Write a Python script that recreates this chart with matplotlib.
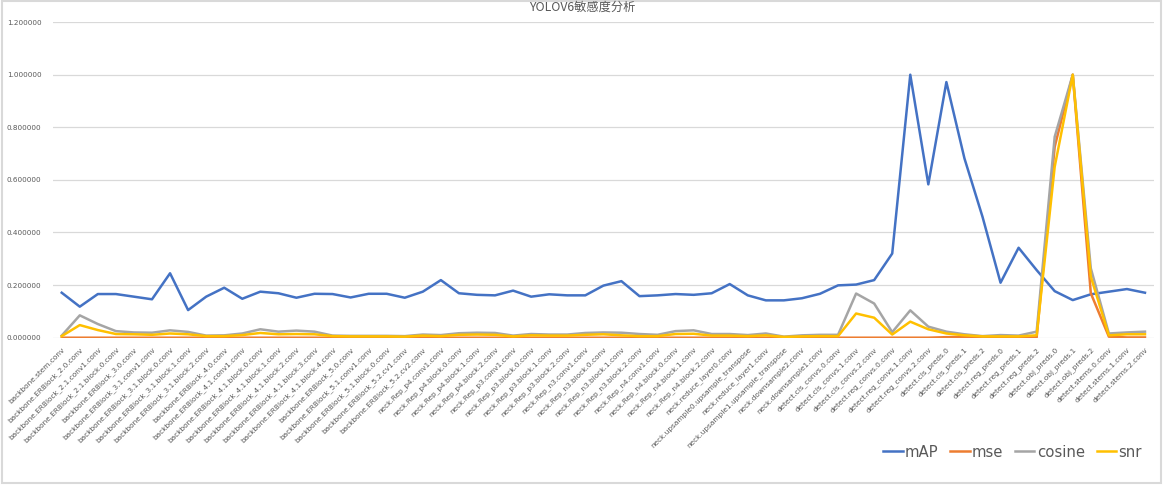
import matplotlib
matplotlib.use('Agg')
import matplotlib.pyplot as plt
from matplotlib.patches import Rectangle
from matplotlib.ticker import FormatStrFormatter

layers = [
    'backbone.stem.conv', 'backbone.ERBlock_2.0.conv', 'backbone.ERBlock_2.1.conv1.conv',
    'backbone.ERBlock_2.1.block.0.conv', 'backbone.ERBlock_3.0.conv', 'backbone.ERBlock_3.1.conv1.conv',
    'backbone.ERBlock_3.1.block.0.conv', 'backbone.ERBlock_3.1.block.1.conv', 'backbone.ERBlock_3.1.block.2.conv',
    'backbone.ERBlock_4.0.conv', 'backbone.ERBlock_4.1.conv1.conv', 'backbone.ERBlock_4.1.block.0.conv',
    'backbone.ERBlock_4.1.block.1.conv', 'backbone.ERBlock_4.1.block.2.conv', 'backbone.ERBlock_4.1.block.3.conv',
    'backbone.ERBlock_4.1.block.4.conv', 'backbone.ERBlock_5.0.conv', 'backbone.ERBlock_5.1.conv1.conv',
    'backbone.ERBlock_5.1.block.0.conv', 'backbone.ERBlock_5.2.cv1.conv', 'backbone.ERBlock_5.2.cv2.conv',
    'neck.Rep_p4.conv1.conv', 'neck.Rep_p4.block.0.conv', 'neck.Rep_p4.block.1.conv', 'neck.Rep_p4.block.2.conv',
    'neck.Rep_p3.conv1.conv', 'neck.Rep_p3.block.0.conv', 'neck.Rep_p3.block.1.conv', 'neck.Rep_p3.block.2.conv',
    'neck.Rep_n3.conv1.conv', 'neck.Rep_n3.block.0.conv', 'neck.Rep_n3.block.1.conv', 'neck.Rep_n3.block.2.conv',
    'neck.Rep_n4.conv1.conv', 'neck.Rep_n4.block.0.conv', 'neck.Rep_n4.block.1.conv', 'neck.Rep_n4.block.2.conv',
    'neck.reduce_layer0.conv', 'neck.upsample0.upsample_transpose', 'neck.reduce_layer1.conv',
    'neck.upsample1.upsample_transpose', 'neck.downsample2.conv', 'neck.downsample1.conv',
    'detect.cls_convs.0.conv', 'detect.cls_convs.1.conv', 'detect.cls_convs.2.conv',
    'detect.reg_convs.0.conv', 'detect.reg_convs.1.conv', 'detect.reg_convs.2.conv',
    'detect.cls_preds.0', 'detect.cls_preds.1', 'detect.cls_preds.2',
    'detect.reg_preds.0', 'detect.reg_preds.1', 'detect.reg_preds.2',
    'detect.obj_preds.0', 'detect.obj_preds.1', 'detect.obj_preds.2',
    'detect.stems.0.conv', 'detect.stems.1.conv', 'detect.stems.2.conv',
]

mAP = [0.171, 0.118, 0.166, 0.166, 0.156, 0.146, 0.245, 0.105, 0.156, 0.190,
       0.148, 0.175, 0.169, 0.152, 0.167, 0.166, 0.153, 0.167, 0.167, 0.152,
       0.175, 0.219, 0.169, 0.163, 0.161, 0.179, 0.156, 0.165, 0.161, 0.161,
       0.198, 0.215, 0.158, 0.161, 0.166, 0.163, 0.169, 0.204, 0.161, 0.142,
       0.142, 0.150, 0.167, 0.199, 0.202, 0.219, 0.320, 1.000, 0.583, 0.972,
       0.682, 0.460, 0.209, 0.342, 0.257, 0.177, 0.143, 0.165, 0.175, 0.185,
       0.171]

mse = [0.0] * 49 + [0.002, 0.003, 0.002, 0.001, 0.001, 0.001,
                    0.726, 1.000, 0.169, 0.004, 0.001, 0.001]

cosine = [0.008, 0.085, 0.052, 0.025, 0.020, 0.019, 0.028, 0.022, 0.008, 0.009,
          0.016, 0.032, 0.023, 0.027, 0.023, 0.008, 0.007, 0.007, 0.007, 0.006,
          0.012, 0.010, 0.017, 0.019, 0.018, 0.008, 0.014, 0.012, 0.012, 0.018,
          0.020, 0.019, 0.014, 0.011, 0.025, 0.028, 0.014, 0.014, 0.010, 0.016,
          0.004, 0.009, 0.011, 0.011, 0.168, 0.130, 0.021, 0.104, 0.042, 0.023,
          0.013, 0.006, 0.010, 0.008, 0.023, 0.764, 1.000, 0.264, 0.016, 0.020,
          0.023]

snr = [0.006, 0.048, 0.029, 0.014, 0.013, 0.011, 0.016, 0.013, 0.006, 0.006,
       0.010, 0.018, 0.013, 0.014, 0.013, 0.006, 0.005, 0.005, 0.005, 0.004,
       0.008, 0.006, 0.011, 0.012, 0.011, 0.005, 0.009, 0.008, 0.008, 0.011,
       0.013, 0.009, 0.006, 0.006, 0.014, 0.015, 0.008, 0.008, 0.006, 0.009,
       0.003, 0.005, 0.006, 0.006, 0.092, 0.076, 0.012, 0.061, 0.032, 0.016,
       0.009, 0.005, 0.005, 0.005, 0.009, 0.650, 1.000, 0.232, 0.009, 0.013,
       0.013]

series = [('mAP', mAP, '#4472C4'), ('mse', mse, '#ED7D31'),
          ('cosine', cosine, '#A5A5A5'), ('snr', snr, '#FFC000')]

W, H = 1165, 486
fig = plt.figure(figsize=(W / 100, H / 100), dpi=100)
fig.patches.append(Rectangle((2 / W, 3 / H), 1 - 6 / W, 1 - 4 / H, transform=fig.transFigure,
                             fill=False, edgecolor='#d9d9d9', linewidth=1.5))

ax = fig.add_axes([52.7 / W, 1 - 337.7 / H, (1154 - 52.7) / W, (337.7 - 22.1) / H])
x = list(range(len(layers)))
for name, vals, color in series:
    ax.plot(x, vals, color=color, linewidth=1.8, label=name, solid_joinstyle='round')

ax.set_xlim(-0.5, len(layers) - 0.5)
ax.set_ylim(0, 1.2)
ax.set_yticks([0, 0.2, 0.4, 0.6, 0.8, 1.0, 1.2])
ax.yaxis.set_major_formatter(FormatStrFormatter('%.6f'))
ax.grid(axis='y', color='#d9d9d9', linewidth=0.9)
ax.set_axisbelow(True)
for s in ax.spines.values():
    s.set_visible(False)
ax.tick_params(axis='both', length=0, colors='#595959')
ax.tick_params(axis='y', labelsize=5.2, pad=8)
ax.set_xticks(x)
ax.set_xticklabels(layers, rotation=45, ha='right', rotation_mode='anchor', fontsize=5.3)
ax.tick_params(axis='x', pad=6)

fig.text(0.5, 1 - 1 / H, 'YOLOV6敏感度分析', ha='center', va='top', fontsize=8.8,
         color='#595959', family=['Noto Sans CJK SC', 'DejaVu Sans'])

fig.legend(loc='center right', bbox_to_anchor=(1155 / W, 1 - 452 / H), ncol=4, frameon=False,
           fontsize=10.7, handlelength=1.3, handletextpad=0.15, columnspacing=0.8,
           labelcolor='#595959')

fig.savefig('out.png', dpi=100)
